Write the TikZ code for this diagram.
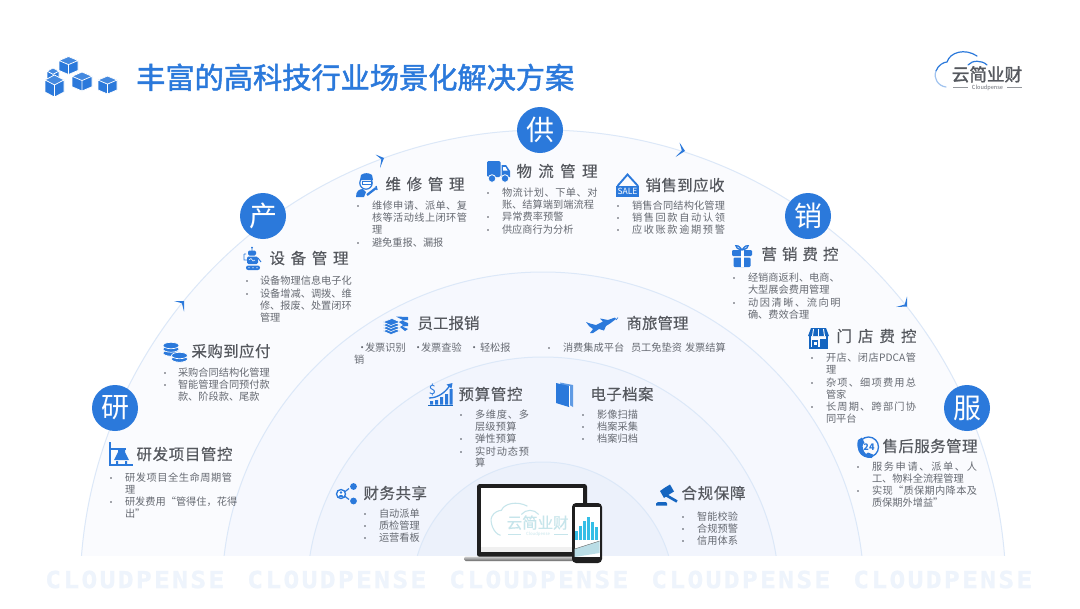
\documentclass[tikz,border=0pt]{standalone}
\usepackage{fontspec}
\setmainfont{Noto Sans CJK SC}
\newfontfamily\monob{DejaVu Sans Mono Bold}[FakeStretch=1.12,FakeBold=1.2]
\newfontfamily\titlef{Noto Sans CJK SC}[FakeBold=1.7]
\newfontfamily\headf{Noto Sans CJK SC}[FakeBold=0.3]
\usetikzlibrary{calc}
\definecolor{cblue}{HTML}{2B79DB}
\definecolor{cdeep}{HTML}{1565C0}
\definecolor{chead}{HTML}{55585E}
\definecolor{cbody}{HTML}{666A72}
\definecolor{cdot}{HTML}{4A4E57}
\definecolor{cring}{HTML}{DCE8F8}
\definecolor{cwm}{HTML}{EEF4FC}
\definecolor{crA}{HTML}{FAFBFE}
\definecolor{crB}{HTML}{F6F8FE}
\definecolor{crC}{HTML}{F2F5FD}
\definecolor{crD}{HTML}{ECF1FB}
\definecolor{cteal}{HTML}{C6E5EB}
\definecolor{ccyan}{HTML}{34BEE6}
\definecolor{cband}{HTML}{BADDE6}
\newdimen\pxu \pxu=0.75pt
\def\JJ#1#2\JEND{#1\ifx\relax#2\relax\else\hfil\JJ#2\JEND\fi}
\newcommand\JB[2]{\hbox to #1\pxu{\JJ#2\JEND}}
\newcount\nn
\tikzset{
  bodytxt/.style={anchor=base west,inner sep=0pt,outer sep=0pt,text=cbody,font=\fontsize{7.65pt}{9pt}\selectfont},
  headtxt/.style={anchor=base west,inner sep=0pt,outer sep=0pt,text=chead,font=\fontsize{11.6pt}{13pt}\headf},
  badge/.style={circle,fill=cblue,draw=none,minimum size=34.5pt,inner sep=0pt,text=white,font=\fontsize{21pt}{24pt}\selectfont},
  ring/.style={draw=cring,line width=0.75pt},
  wmtxt/.style={anchor=base west,inner sep=0pt,text=cwm,font=\fontsize{17.5pt}{20pt}\monob},
  il/.style={draw=cblue,line width=0.9pt,fill=none}
}
% justified body line: x y width text
\newcommand\TL[4]{\global\advance\nn by 1 \node[bodytxt] (t\the\nn) at (#1,#2+3.9) {\JB{#3}{#4}};}
% natural body line
\newcommand\NL[3]{\global\advance\nn by 1 \node[bodytxt] (t\the\nn) at (#1,#2+3.9) {#3};}
% heading
\newcommand\HD[4]{\global\advance\nn by 1 \node[headtxt] (t\the\nn) at (#1,#2+5.9) {\JB{#3}{#4}};}
\newcommand\BU[2]{\fill[cdot] (#1,#2) circle[radius=0.9];}
\newcommand\CHEV[3]{\fill[cblue] (#1)--(#2)--(#3)--($(#2)!.42!($(#1)!.5!(#3)$)$)--cycle;}
\newcommand\CUBE[4]{\begin{scope}[shift={(#1,#2)},x=#3*0.75pt,y=-#4*0.75pt]
 \fill[cblue] (0,-1)--(1,-.55)--(1,.55)--(0,1)--(-1,.55)--(-1,-.55)--cycle;
 \fill[white,opacity=.12] (0,-1)--(1,-.55)--(0,-.1)--(-1,-.55)--cycle;
 \draw[white,line width=.55pt] (-1,-.55)--(0,-.1)--(1,-.55) (0,-.1)--(0,1) (0,-1)--(1,-.55)--(1,.55)--(0,1)--(-1,.55)--(-1,-.55)--cycle;
\end{scope}}
\newcommand\WM[1]{\global\advance\nn by 1 \node[wmtxt] (t\the\nn) at (#1,588) {\JB{179}{CLOUDPENSE}};}
\begin{document}
\begin{tikzpicture}[x=0.75pt,y=-0.75pt]
\useasboundingbox (0,0) rectangle (1080,608);
\fill[white] (0,0) rectangle (1080,608);
% concentric rings, cut at the floor
\begin{scope}
 \clip (0,0) rectangle (1080,555);
 \fill[fill=white] (0,0) rectangle (1080,555);
 \filldraw[ring,fill=crA] (543,593) circle[radius=463];
 \filldraw[ring,fill=crB] (543,593) circle[radius=321];
 \filldraw[ring,fill=crC] (543,593) circle[radius=236];
 \filldraw[ring,fill=crD] (543,593) circle[radius=131];
\end{scope}
% chevrons on the outer ring
\CHEV{375.5,154.5}{384,158}{380,168}
\CHEV{679.5,142.5}{685,151}{675.5,157}
\CHEV{174,301}{184,301}{184,311.5}
\CHEV{896,307}{907,306.5}{907,296.5}
% badges
\node[badge] (bgong) at (540,130) {供};
\node[badge] (bchan) at (263,216) {产};
\node[badge] (bxiao) at (808,216) {销};
\node[badge] (byan) at (115,408) {研};
\node[badge] (bfu) at (967,408) {服};
% title
\CUBE{53}{75}{6}{7}
\CUBE{68.5}{65.5}{9.5}{9}
\CUBE{82}{81.5}{10}{9.5}
\CUBE{54.5}{86}{9.5}{11}
\CUBE{107.5}{85}{9.5}{9}
\node[anchor=base west,inner sep=0pt,text=cblue,font=\fontsize{21.9pt}{24pt}\titlef] (title) at (136,88.5) {丰富的高科技行业场景化解决方案};
% logo top right
\begin{scope}[shift={(935,50)}]
 \draw[cblue,line width=.9pt,line cap=round] (1,21) .. controls (3,15) and (9,12) .. (12,12) .. controls (15,2) and (30,-2) .. (42,6);
 \draw[cblue!45,line width=.9pt,line cap=round] (11,37) .. controls (3,36) and (-2,28) .. (1,21);
 \draw[cblue,line width=.9pt,line cap=round] (33,15) .. controls (37,10) and (47,10) .. (52,15);
\end{scope}
\node[anchor=base west,inner sep=0pt,text=chead,font=\fontsize{13.2pt}{14pt}\titlef] (logot) at (951.5,81) {云简业财};
\node[anchor=base,inner sep=0pt,text=cbody,font=\fontsize{4.2pt}{5pt}\selectfont] (logos) at (987.5,89) {Cloudpense};
\draw[cbody!70,line width=.35pt] (953,87)--(968,87) (1007,87)--(1022,87);
% ---- 维修管理
\begin{scope}
 \draw[il] (366,183) circle[radius=6.2];
 \fill[cblue] (360,180)--(361,175) .. controls (364,172.5) and (369,172.5) .. (372,175) -- (373,180)--cycle;
 \fill[white] (362,181) rectangle (371,184.5);
 \draw[cblue,line width=.7pt] (362,181) rectangle (371,184.5);
 \fill[cblue] (356,197) .. controls (356,191) and (359,189) .. (363,189) -- (366,192) -- (364,197) --cycle;
 \draw[cblue,line width=1.7pt] (367,195)--(376,188) ;
 \draw[cblue,line width=1pt] (376,186) -- (377,190);
\end{scope}
\HD{385.5}{184}{79}{维修管理}
\BU{358}{206}\TL{372}{206}{95}{维修申请、派单、复}
\TL{372}{218}{95}{核等活动线上闭环管}
\NL{372}{230}{理}
\BU{358}{243}\TL{372}{243}{71}{避免重报、漏报}
% ---- 物流管理
\fill[cblue,rounded corners=1pt] (487,161) rectangle (500.5,177);
\fill[cblue] (501.5,165)--(506,165)--(510,171)--(510,177)--(501.5,177)--cycle;
\fill[white] (503,167)--(505.5,167)--(507.5,170.5)--(503,170.5)--cycle;
\filldraw[fill=cblue,draw=white,line width=.6pt] (492,178.5) circle[radius=3.8] (505,178.5) circle[radius=3.8];
\HD{516.5}{171}{81}{物流管理}
\BU{488}{193}\TL{502}{193}{95.5}{物流计划、下单、对}
\TL{502}{205}{92}{账、结算端到端流程}
\BU{488}{217}\TL{502}{217}{61.5}{异常费率预警}
\BU{488}{230}\TL{502}{230}{71.5}{供应商行为分析}
% ---- 销售到应收
\draw[cblue,line width=1.4pt] (617.5,186) -- (627.5,174.5) -- (638,186);
\fill[cblue] (616,186) rectangle (639,197);
\node[anchor=center,inner sep=0pt,text=white,font=\fontsize{6.4pt}{7pt}\selectfont] (sale) at (627.5,191.5) {SALE};
\HD{645.5}{185}{79}{销售到应收}
\BU{618}{206}\TL{632}{206}{93}{销售合同结构化管理}
\BU{618}{218}\TL{632}{218}{93}{销售回款自动认领}
\BU{618}{230}\TL{632}{230}{93}{应收账款逾期预警}
% ---- 设备管理
\begin{scope}
 \draw[cblue,line width=.7pt] (252,247)--(252,251) (246,254)--(244,254) (244,254)--(244,260)--(247,260) (258,258)--(261,262);
 \fill[cblue] (252,247.5) circle[radius=1];
 \fill[cblue,rounded corners=1pt] (248,250.5) rectangle (256,255.5);
 \fill[cblue,rounded corners=1pt] (247,256.5) rectangle (258,264);
 \draw[white,line width=.4pt] (249,260)--(251,258.5)--(253,261)--(255,260);
 \fill[cblue,rounded corners=1.6pt] (246,265.5) rectangle (260,270);
 \fill[white] (249,267.7) circle[radius=.7] (253,267.7) circle[radius=.7] (257,267.7) circle[radius=.7];
\end{scope}
\HD{269.5}{258}{79}{设备管理}
\BU{247}{281}\TL{260}{281}{91}{设备物理信息电子化}
\BU{247}{294}\TL{260}{294}{91}{设备增减、调拨、维}
\TL{260}{306}{91}{修、报废、处置闭环}
\NL{260}{318}{管理}
% ---- 采购到应付
\begin{scope}
 \foreach \yy in {353,349,345.5}{\filldraw[fill=cblue,draw=white,line width=.5pt] (171,\yy) ellipse[x radius=8,y radius=3.2];}
 \foreach \yy in {359,355.5}{\filldraw[fill=cblue,draw=white,line width=.5pt] (179.5,\yy) ellipse[x radius=8,y radius=3.2];}
\end{scope}
\HD{191.5}{351}{79}{采购到应付}
\BU{165}{373}\TL{178}{373}{91}{采购合同结构化管理}
\BU{165}{385}\TL{178}{385}{91}{智能管理合同预付款}
\TL{178}{397}{81}{款、阶段款、尾款}
% ---- 研发项目管控
\draw[cblue,line width=.9pt] (110,442)--(110,465) (109,465)--(133,465) (110,449)--(126,449);
\fill[cblue] (118,449)--(125,449)--(125,452)--(129,460)--(114,460)--(118,452)--cycle;
\fill[cblue] (116,461) rectangle (118,465) (125,461) rectangle (127,465);
\HD{136.5}{454}{96}{研发项目管控}
\BU{111}{478}\TL{125}{478}{107}{研发项目全生命周期管}
\NL{125}{490}{理}
\BU{111}{502}\TL{125}{502}{107}{研发费用“管得住，花得}
\NL{125}{514}{出”}
% ---- 营销费控
\fill[cblue,rounded corners=.8pt] (732,250) rectangle (752,256);
\fill[cblue,rounded corners=.8pt] (733.5,257.5) rectangle (750.5,267);
\fill[white] (740.5,250) rectangle (743.5,267);
\draw[cblue,line width=1pt] (742,250) .. controls (736,241) and (732,248) .. (742,250) .. controls (752,248) and (748,241) .. (742,250);
\HD{761.5}{254}{77}{营销费控}
\BU{734}{278}\TL{748}{278}{89}{经销商返利、电商、}
\TL{748}{290}{81}{大型展会费用管理}
\BU{734}{303}\TL{748}{303}{92.5}{动因清晰、流向明}
\TL{748}{315}{60.5}{确、费效合理}
% ---- 门店费控
\fill[cdeep] (811,328) -- (826,328) -- (829,336) -- (808,336) -- cycle;
\draw[white,line width=.7pt] (813.5,329)--(812.5,336) (818.5,329)--(818.5,336) (823.5,329)--(824.5,336);
\draw[cdeep,line width=1.5pt] (810,336)--(810,348)--(827,348)--(827,336);
\fill[cdeep] (812,340) rectangle (818,348);
\fill[white] (813.5,341.5) rectangle (816.5,345);
\fill[cdeep] (820,339) rectangle (826.5,348);
\HD{836.5}{336}{80}{门店费控}
\BU{812}{358}\TL{826}{358}{90}{开店、闭店{PDCA}管}
\NL{826}{370}{理}
\BU{812}{383}\TL{826}{383}{90}{杂项、细项费用总}
\NL{826}{395}{管家}
\BU{812}{407}\TL{826}{407}{90}{长周期、跨部门协}
\TL{826}{419}{30}{同平台}
% ---- 售后服务管理
\draw[cblue,line width=1pt] (868.5,447) circle[radius=10];
\fill[cblue] (858,440) .. controls (855,449) and (862,459) .. (872,458) -- (873,454.5) -- (868,452.5) -- (866,454) .. controls (863,451) and (862,447) .. (863,444) -- (864.5,443) -- (862,437.5) --cycle;
\node[anchor=center,inner sep=0pt,text=cblue,font=\fontsize{6.8pt}{7pt}\selectfont\bfseries] (h24) at (869,447) {24};
\HD{882.5}{446}{95}{售后服务管理}
\BU{858}{467}\TL{872}{467}{105}{服务申请、派单、人}
\TL{872}{479}{90.5}{工、物料全流程管理}
\BU{858}{491}\TL{872}{491}{105}{实现“质保期内降本及}
\TL{872}{503}{65.5}{质保期外增益”}
% ---- 员工报销
\foreach \yy in {331,328,325,322}{\filldraw[fill=cblue,draw=white,line width=.4pt] (383,\yy)--(392,\yy-3.5)--(400,\yy)--(391,\yy+3.5)--cycle;}
\fill[cblue] (396,316.5)--(408,317)--(408,320)--(402,320.5)--(408,323)--(408,326)--(402,326.5)--(408,329)--(405,331)--(400,327)--(403,325)--(399,322)--(403,320)--cycle;
\HD{417.5}{323}{62}{员工报销}
\NL{357}{348}{·}
\NL{365}{348}{发票识别}
\NL{413}{348}{·}
\NL{421}{348}{发票查验}
\NL{469}{348}{·}
\NL{480}{348}{轻松报}
\NL{354}{360}{销}
% ---- 商旅管理
\fill[cblue] (586,322) -- (590,323.5) -- (596,325) -- (603,321.5) -- (600,318.5) -- (603,319) -- (608,320) -- (615,317.5) -- (616,319) -- (610,323.5) -- (606,326) -- (604,330.5) -- (599,329) -- (593,333) -- (590,333) -- (593,329) -- (589,326) --cycle;
\draw[cblue,line width=.5pt] (616,320)--(618,317.5);
\HD{626.5}{323}{62}{商旅管理}
\BU{549}{348}
\NL{563}{348}{消费集成平台}
\NL{631}{348}{员工免垫资}
\NL{685}{348}{发票结算}
% ---- 预算管控
\node[anchor=center,inner sep=0pt,text=cblue,font=\fontsize{9.5pt}{10pt}\selectfont] (dollar) at (432.5,390) {\$};
\draw[cdeep,line width=.8pt] (428,405.7)--(453,405.7);
\fill[cblue] (430,401) rectangle (433,404.5) (435,400) rectangle (438,404.5) (440,397) rectangle (443,404.5) (445,394) rectangle (448,404.5) (449.5,389) rectangle (452.5,404.5);
\draw[cblue,line width=1pt] (429,398) .. controls (438,398) and (446,392) .. (450,385);
\fill[cblue] (452.5,383)--(446.5,384.5)--(451.5,388.5)--cycle;
\HD{458.5}{394}{64}{预算管控}
\BU{461}{415}\TL{475}{415}{54}{多维度、多}
\TL{475}{427}{41.5}{层级预算}
\BU{461}{439}\TL{475}{439}{41.5}{弹性预算}
\BU{461}{452}\TL{475}{452}{54}{实时动态预}
\NL{475}{463}{算}
% ---- 电子档案
\fill[cblue!75] (560,382.5)--(573,385)--(573,407)--(568,404)--cycle;
\fill[cblue] (556,383)--(569,386)--(569,407)--(556,403)--cycle;
\draw[white,line width=.3pt] (569.5,386)--(569.5,406);
\HD{590.5}{394}{63}{电子档案}
\BU{583}{415}\TL{597}{415}{41}{影像扫描}
\BU{583}{427}\TL{597}{427}{41}{档案采集}
\BU{583}{439}\TL{597}{439}{41}{档案归档}
% ---- 财务共享
\fill[cblue] (353.5,486.5) circle[radius=3.4] (353.5,501) circle[radius=3.4];
\draw[cblue,line width=.9pt] (342,494)--(349,488.5) (342,494)--(349,499.5);
\filldraw[fill=white,draw=cblue,line width=1pt] (341,494) circle[radius=4.5];
\fill[cblue] (341,492.5) circle[radius=1.4];
\fill[cblue] (338.2,497) .. controls (339,494.2) and (343,494.2) .. (343.8,497)--cycle;
\HD{363.5}{493}{63.5}{财务共享}
\BU{365}{514}\TL{379}{514}{40}{自动派单}
\BU{365}{526}\TL{379}{526}{40}{质检管理}
\BU{365}{538}\TL{379}{538}{40}{运营看板}
% ---- 合规保障
\begin{scope}
 \draw[cdeep,line width=2pt] (664,494)--(677,501.5);
 \fill[cdeep] (665,487.5)--(670,484.5)--(674,491.5)--(669,494.5)--(664,498)--(660,491)--cycle;
 \fill[cdeep] (656,503.5) -- (658,502) -- (666,502) -- (667,503.5) -- (667,505.5) -- (656,505.5) -- cycle;
\end{scope}
\HD{681.5}{493}{64}{合规保障}
\BU{683}{517}\TL{697}{517}{41}{智能校验}
\BU{683}{529}\TL{697}{529}{41}{合规预警}
\BU{683}{541}\TL{697}{541}{41}{信用体系}
% ---- laptop
\fill[black!88,rounded corners=2pt] (477,484) rectangle (587,557);
\fill[white] (481,488) rectangle (583,552);
\fill[black!6] (481,547) rectangle (583,552);
\shade[top color=black!18,bottom color=black!60,rounded corners=1.2pt] (464,556.5) rectangle (575,561);
\begin{scope}[shift={(491,502)},x=0.65pt,y=-0.52pt]
 \draw[cteal,line width=.8pt] (11,48) .. controls (3,46) and (-2,28) .. (1,21) .. controls (3,15) and (9,12) .. (12,12) .. controls (15,2) and (30,-2) .. (42,6);
 \draw[cteal,line width=.8pt] (35,18) .. controls (40,10) and (50,10) .. (55,18);
\end{scope}
\node[anchor=base west,inner sep=0pt,font=\fontsize{11.6pt}{12pt}\headf,text=cteal] (scrt) at (506.5,528.5) {云简业财};
\node[anchor=base,inner sep=0pt,font=\fontsize{3.2pt}{4pt}\selectfont,text=cteal] (scrs) at (538,535) {Cloudpense};
\draw[cteal,line width=.3pt] (508,534)--(521,534) (554,534)--(568,534);
% ---- phone
\fill[black!88,rounded corners=3pt] (572,503) rectangle (602,563);
\fill[white] (574.5,507) rectangle (599.5,557);
\foreach \xa/\ya in {575/531,579/526,583/521,587/517,591/522,595/527}{\fill[ccyan] (\xa,\ya) rectangle (\xa+2.8,540);}
\fill[cband] (574.5,549)--(599.5,541)--(599.5,553)--(574.5,557)--cycle;
\draw[black!60,line width=.3pt] (574.5,549)--(599.5,541);
% ---- watermark
\WM{45}\WM{247}\WM{449}\WM{651}\WM{853}
\end{tikzpicture}
\end{document}
